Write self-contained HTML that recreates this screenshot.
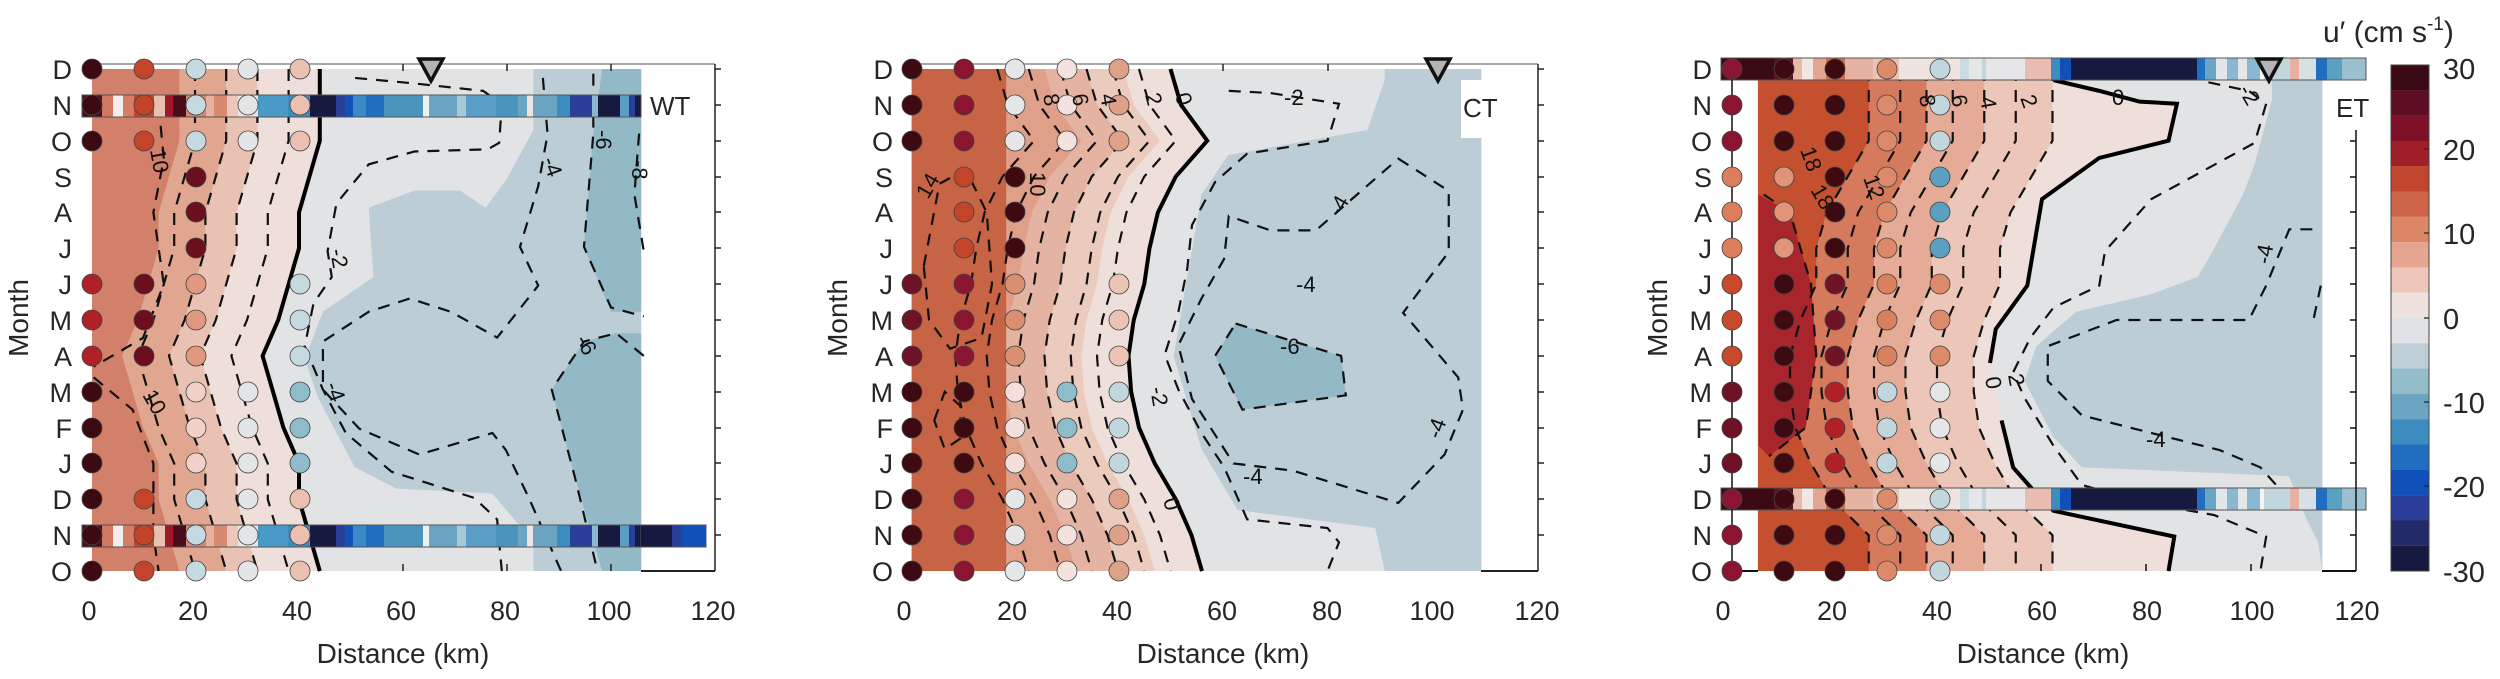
<!DOCTYPE html>
<html><head><meta charset="utf-8"><style>
html,body{margin:0;padding:0;background:#fff;}
svg{display:block;font-family:"Liberation Sans",Arial,sans-serif;}
.t{font-size:27px;fill:#262626;}
.cl{font-size:22px;fill:#111;}
.d{stroke:#444;stroke-width:0.8;}
</style></head><body>
<svg width="2500" height="679" viewBox="0 0 2500 679" xmlns="http://www.w3.org/2000/svg">
<defs>
<clipPath id="c1" clipPathUnits="userSpaceOnUse"><rect x="0.2" y="0" width="105.6" height="14"/></clipPath>
<clipPath id="c2" clipPathUnits="userSpaceOnUse"><rect x="0.7" y="0" width="108.5" height="14"/></clipPath>
<clipPath id="c3" clipPathUnits="userSpaceOnUse"><rect x="5.9" y="0" width="107.5" height="14"/></clipPath>
<polygon id="P1" points="44,0 44,1 44,2 42,3 40,4 40,5 38,6 36,7 33,8 35,9 37,10 40,11 40,12 42,13 44,14 -60,14 -60,0"/>
<polyline id="Z1" vector-effect="non-scaling-stroke" points="44,0 44,1 44,2 42,3 40,4 40,5 38,6 36,7 33,8 35,9 37,10 40,11 40,12 42,13 44,14" fill="none"/>
<polygon id="P2" points="50,0 52,1 57,2 51,3 47.6,4 46,5 45,6 43,7 42,8 42.5,9 44,10 47,11 51,12 54,13 56,14 -60,14 -60,0"/>
<polyline id="Z2" vector-effect="non-scaling-stroke" points="50,0 52,1 57,2 51,3 47.6,4 46,5 45,6 43,7 42,8 42.5,9 44,10 47,11 51,12 54,13 56,14" fill="none"/>
<polygon id="P3" points="62,0 62,1 62,2 58,3 54,4 52,5 52,6 49,7 47,8 47,9 48,10 51,11 55,12 62,13 62,14 -60,14 -60,0"/>
<polyline id="Z3" vector-effect="non-scaling-stroke" points="62,0 62,1 62,2 58,3 54,4 52,5 52,6 49,7 47,8 47,9 48,10 51,11 55,12 62,13 62,14" fill="none"/>
</defs>
<rect width="2500" height="679" fill="#fff"/>

<!-- ================= PANEL 1 ================= -->
<g transform="translate(91,69) scale(5.2,35.86)">
 <g clip-path="url(#c1)">
  <rect x="0" y="0" width="106" height="14" fill="#e2e3e5"/>
  <polygon fill="#bccdd5" points="85.1,0 85.1,1.7 79.8,3.1 75.9,3.87 71,3.39 62.2,3.39 53.4,3.87 54.3,5.8 44.6,6.77 41.1,8.09 43.7,9.18 50.7,11.1 58.7,11.7 77.2,11.84 85.1,13.2 85.1,14 106,14 106,0"/>
  <polygon fill="#93b9c7" points="98.3,0 106.3,0 106.3,6.77 100,6.77 94.8,4.96 96.6,1.8"/>
  <polygon fill="#93b9c7" points="106.3,7.37 101,7.37 94.8,7.6 88.6,8.94 93,11.35 98.3,14 106.3,14"/>
  <use href="#P1" fill="#eedfdb"/>
  <use href="#P1" fill="#e9c2b4" transform="translate(-12,0)"/>
  <use href="#P1" fill="#e0a690" transform="translate(-18,0)"/>
  <use href="#P1" fill="#d3806a" transform="translate(-27,0)"/>
 </g>
 <g fill="none" stroke="#111" stroke-width="2.2" stroke-dasharray="12,9">
  <use href="#Z1" transform="translate(-6,0)"/>
  <use href="#Z1" transform="translate(-12,0)"/>
  <use href="#Z1" transform="translate(-18,0)"/>
  <use href="#Z1" transform="translate(-24,0)"/>
  <polyline vector-effect="non-scaling-stroke" points="13,1 14,2.5 12,4 14,6 10,7.5 0.5,8.3"/>
  <polyline vector-effect="non-scaling-stroke" points="0.5,8.6 8,9.5 12,11 12,13 13,14"/>
  <polyline vector-effect="non-scaling-stroke" points="50.8,0.25 62,0.4 75.4,0.61 79,0.97 78.5,2.06 76.3,2.24 62.2,2.3 53.4,2.66 47.2,3.75 45.5,5.08 46.3,5.8 42.8,6.53 41.1,7.73 44.6,8.94 49,10.15 57.8,11.23 73.7,11.96 78.1,12.56 79,14"/>
  <polyline vector-effect="non-scaling-stroke" points="86.9,0.25 87.8,1.82 86,3.27 82.5,4.96 86,6.04 78.1,7.49 69.2,6.77 61.3,6.4 53.4,6.77 44.6,7.6 44.6,8.94 51.6,10.03 63.1,10.75 77.2,10.15 79.8,10.63 84.2,11.96 90.4,14"/>
  <polyline vector-effect="non-scaling-stroke" points="96.6,0.13 96.6,1.8 94.8,4.96 100,6.65 106.3,6.9"/>
  <polyline vector-effect="non-scaling-stroke" points="106.3,8 101,7.37 94.8,7.6 88.6,8.94 93,11.35 97.4,14"/>
  <polyline vector-effect="non-scaling-stroke" points="105.4,1.8 104.5,3.5 106.3,5.08"/>
 </g>
 <use href="#Z1" stroke="#000" stroke-width="4"/>
</g>
<!-- frame 1 -->
<line x1="91" y1="64" x2="715" y2="64" stroke="#a8a8a8" stroke-width="2"/>
<line x1="715" y1="64" x2="715" y2="571" stroke="#222" stroke-width="1.5"/>
<line x1="641" y1="571" x2="715" y2="571" stroke="#222" stroke-width="2"/>
<g stroke="#222" stroke-width="1.5">
<line x1="195" y1="64" x2="195" y2="71"/><line x1="299" y1="64" x2="299" y2="71"/><line x1="403" y1="64" x2="403" y2="71"/><line x1="507" y1="64" x2="507" y2="71"/><line x1="611" y1="64" x2="611" y2="71"/>
<line x1="403" y1="571" x2="403" y2="564"/><line x1="507" y1="571" x2="507" y2="564"/><line x1="611" y1="571" x2="611" y2="564"/>
<line x1="715" y1="69" x2="721" y2="69"/><line x1="715" y1="105" x2="721" y2="105"/><line x1="715" y1="141" x2="721" y2="141"/><line x1="715" y1="177" x2="721" y2="177"/><line x1="715" y1="212" x2="721" y2="212"/><line x1="715" y1="248" x2="721" y2="248"/><line x1="715" y1="284" x2="721" y2="284"/><line x1="715" y1="320" x2="721" y2="320"/><line x1="715" y1="356" x2="721" y2="356"/><line x1="715" y1="392" x2="721" y2="392"/><line x1="715" y1="428" x2="721" y2="428"/><line x1="715" y1="463" x2="721" y2="463"/><line x1="715" y1="499" x2="721" y2="499"/><line x1="715" y1="535" x2="721" y2="535"/>
</g>
<!-- bars panel 1 -->
<g id="bar1">
<rect x="82" y="95" width="20" height="22" fill="#4a0c18"/><rect x="102" y="95" width="11" height="22" fill="#d07860"/><rect x="113" y="95" width="10" height="22" fill="#f2eeee"/><rect x="123" y="95" width="11" height="22" fill="#d47c64"/><rect x="134" y="95" width="20" height="22" fill="#c4442a"/><rect x="154" y="95" width="11" height="22" fill="#e8c0b0"/><rect x="165" y="95" width="8" height="22" fill="#a01828"/><rect x="173" y="95" width="13" height="22" fill="#4a0c18"/><rect x="186" y="95" width="20" height="22" fill="#d08870"/><rect x="206" y="95" width="8" height="22" fill="#e8b0a0"/><rect x="214" y="95" width="13" height="22" fill="#d88a70"/><rect x="227" y="95" width="11" height="22" fill="#ecc8bc"/><rect x="238" y="95" width="20" height="22" fill="#eee4e0"/><rect x="258" y="95" width="30" height="22" fill="#4a9ac8"/><rect x="288" y="95" width="22" height="22" fill="#3d8cc0"/><rect x="310" y="95" width="26" height="22" fill="#161a40"/><rect x="336" y="95" width="9" height="22" fill="#2a3f9a"/><rect x="345" y="95" width="8" height="22" fill="#1050b8"/><rect x="353" y="95" width="13" height="22" fill="#3a8ac8"/><rect x="366" y="95" width="18" height="22" fill="#1f6ebf"/><rect x="384" y="95" width="39" height="22" fill="#4a95c0"/><rect x="423" y="95" width="6" height="22" fill="#f2f0ee"/><rect x="429" y="95" width="28" height="22" fill="#6aa6c4"/><rect x="457" y="95" width="9" height="22" fill="#a8c8d6"/><rect x="466" y="95" width="30" height="22" fill="#5a9ec8"/><rect x="496" y="95" width="22" height="22" fill="#4a95c0"/><rect x="518" y="95" width="9" height="22" fill="#6aa6c4"/><rect x="527" y="95" width="6" height="22" fill="#f0e4e0"/><rect x="533" y="95" width="24" height="22" fill="#6aa6c4"/><rect x="557" y="95" width="13" height="22" fill="#3d8cc0"/><rect x="570" y="95" width="22" height="22" fill="#2a3f9a"/><rect x="592" y="95" width="6" height="22" fill="#8ab8d0"/><rect x="598" y="95" width="22" height="22" fill="#161a40"/><rect x="620" y="95" width="9" height="22" fill="#5a9ec8"/><rect x="629" y="95" width="6" height="22" fill="#2a3f9a"/><rect x="635" y="95" width="6" height="22" fill="#161a40"/>
<rect x="82" y="95" width="559" height="22" fill="none" stroke="#555" stroke-width="1"/>
</g>
<use href="#bar1" transform="translate(0,430)"/>
<rect x="641" y="525" width="31" height="22" fill="#161a40"/><rect x="672" y="525" width="10" height="22" fill="#2a3f9a"/><rect x="682" y="525" width="24" height="22" fill="#1050b8"/>
<rect x="82" y="525" width="624" height="22" fill="none" stroke="#555" stroke-width="1"/>
<!-- dots panel 1 -->
<g class="d">
<circle cx="92" cy="69" r="10" fill="#3d0a12"/><circle cx="144" cy="69" r="10" fill="#c4442a"/><circle cx="196" cy="69" r="10" fill="#c5d9e1"/><circle cx="248" cy="69" r="10" fill="#e3e5e7"/><circle cx="300" cy="69" r="10" fill="#ecc0b0"/>
<circle cx="92" cy="105" r="10" fill="#3d0a12"/><circle cx="144" cy="105" r="10" fill="#c4442a"/><circle cx="196" cy="105" r="10" fill="#c5d9e1"/><circle cx="248" cy="105" r="10" fill="#e3e5e7"/><circle cx="300" cy="105" r="10" fill="#ecc0b0"/>
<circle cx="92" cy="141" r="10" fill="#3d0a12"/><circle cx="144" cy="141" r="10" fill="#c4442a"/><circle cx="196" cy="141" r="10" fill="#c5d9e1"/><circle cx="248" cy="141" r="10" fill="#e3e5e7"/><circle cx="300" cy="141" r="10" fill="#ecc0b0"/>
<circle cx="196" cy="177" r="10" fill="#6b0f1f"/><circle cx="196" cy="212" r="10" fill="#6b0f1f"/><circle cx="196" cy="248" r="10" fill="#6b0f1f"/>
<circle cx="92" cy="284" r="10" fill="#b02027"/><circle cx="144" cy="284" r="10" fill="#6b0f1f"/><circle cx="196" cy="284" r="10" fill="#e09880"/><circle cx="300" cy="284" r="10" fill="#c5d9e1"/>
<circle cx="92" cy="320" r="10" fill="#b02027"/><circle cx="144" cy="320" r="10" fill="#6b0f1f"/><circle cx="196" cy="320" r="10" fill="#e09880"/><circle cx="300" cy="320" r="10" fill="#c5d9e1"/>
<circle cx="92" cy="356" r="10" fill="#b02027"/><circle cx="144" cy="356" r="10" fill="#6b0f1f"/><circle cx="196" cy="356" r="10" fill="#e09880"/><circle cx="300" cy="356" r="10" fill="#c5d9e1"/>
<circle cx="92" cy="392" r="10" fill="#3d0a12"/><circle cx="196" cy="392" r="10" fill="#f0d2c8"/><circle cx="248" cy="392" r="10" fill="#e3e5e7"/><circle cx="300" cy="392" r="10" fill="#8fbccb"/>
<circle cx="92" cy="428" r="10" fill="#3d0a12"/><circle cx="196" cy="428" r="10" fill="#f0d2c8"/><circle cx="248" cy="428" r="10" fill="#e3e5e7"/><circle cx="300" cy="428" r="10" fill="#8fbccb"/>
<circle cx="92" cy="463" r="10" fill="#3d0a12"/><circle cx="196" cy="463" r="10" fill="#f0d2c8"/><circle cx="248" cy="463" r="10" fill="#e3e5e7"/><circle cx="300" cy="463" r="10" fill="#8fbccb"/>
<circle cx="92" cy="499" r="10" fill="#3d0a12"/><circle cx="144" cy="499" r="10" fill="#c4442a"/><circle cx="196" cy="499" r="10" fill="#c5d9e1"/><circle cx="248" cy="499" r="10" fill="#e3e5e7"/><circle cx="300" cy="499" r="10" fill="#ecc0b0"/>
<circle cx="92" cy="535" r="10" fill="#3d0a12"/><circle cx="144" cy="535" r="10" fill="#c4442a"/><circle cx="196" cy="535" r="10" fill="#c5d9e1"/><circle cx="248" cy="535" r="10" fill="#e3e5e7"/><circle cx="300" cy="535" r="10" fill="#ecc0b0"/>
<circle cx="92" cy="571" r="10" fill="#3d0a12"/><circle cx="144" cy="571" r="10" fill="#c4442a"/><circle cx="196" cy="571" r="10" fill="#c5d9e1"/><circle cx="248" cy="571" r="10" fill="#e3e5e7"/><circle cx="300" cy="571" r="10" fill="#ecc0b0"/>
</g>
<polygon points="419,59 443,59 431,81" fill="#b4b4b4" stroke="#111" stroke-width="3.5" stroke-linejoin="miter"/>
<text x="650" y="115" class="t" style="font-size:26px">WT</text>
<g class="cl">
<text transform="translate(150,150) rotate(80)">10</text>
<text transform="translate(142,395) rotate(60)">10</text>
<text transform="translate(330,250) rotate(80)">-2</text>
<text transform="translate(325,385) rotate(70)">-4</text>
<text transform="translate(542,160) rotate(70)">-4</text>
<text transform="translate(575,340) rotate(60)">-6</text>
<text transform="translate(596,130) rotate(90)">-6</text>
<text transform="translate(632,160) rotate(90)">-8</text>
</g>
<!-- axes labels panel 1 -->
<g class="t" text-anchor="end">
<text x="72" y="79">D</text><text x="72" y="115">N</text><text x="72" y="151">O</text><text x="72" y="187">S</text><text x="72" y="222">A</text><text x="72" y="258">J</text><text x="72" y="294">J</text><text x="72" y="330">M</text><text x="72" y="366">A</text><text x="72" y="402">M</text><text x="72" y="438">F</text><text x="72" y="473">J</text><text x="72" y="509">D</text><text x="72" y="545">N</text><text x="72" y="581">O</text>
</g>
<g class="t" text-anchor="middle">
<text x="89" y="620">0</text><text x="193" y="620">20</text><text x="297" y="620">40</text><text x="401" y="620">60</text><text x="505" y="620">80</text><text x="609" y="620">100</text><text x="713" y="620">120</text>
<text x="403" y="663" style="font-size:28px">Distance (km)</text>
<text transform="translate(28,318) rotate(-90)" style="font-size:28px">Month</text>
</g>

<!-- ================= PANEL 2 ================= -->
<g transform="translate(908,69) scale(5.25,35.86)">
 <g clip-path="url(#c2)">
  <rect x="0" y="0" width="110" height="14" fill="#e2e3e5"/>
  <polygon fill="#bccdd5" points="90.8,0 90.8,0.3 87.5,1.7 61,2.4 55.9,3.5 50.6,8 55.9,10.6 62.8,12.3 89,12.8 90.8,14 110,14 110,0"/>
  <polygon fill="#93b9c7" points="62.4,7.1 82.5,8.0 83.4,9.1 63.7,9.5 58.5,8.0"/>
  <use href="#P2" fill="#eedfdb"/>
  <use href="#P2" fill="#eccbbf" transform="translate(-9,0)"/>
  <use href="#P2" fill="#e5b3a2" transform="translate(-16,0)"/>
  <use href="#P2" fill="#df9f88" transform="translate(-24,0)"/>
  <rect x="0" y="0" width="18.7" height="14" fill="#c66445"/>
 </g>
 <g fill="none" stroke="#111" stroke-width="2.2" stroke-dasharray="12,9">
  <use href="#Z2" transform="translate(-6,0)"/>
  <use href="#Z2" transform="translate(-11,0)"/>
  <use href="#Z2" transform="translate(-16,0)"/>
  <use href="#Z2" transform="translate(-21,0)"/>
  <use href="#Z2" transform="translate(-27,0)"/>
  <use href="#Z2" transform="translate(-33,0)"/>
  <polyline vector-effect="non-scaling-stroke" points="61.1,0.61 69,0.67 82.1,0.97 79.9,2.0 64.6,2.36 58.5,3.15 54.1,4.35 53.2,5.56 51.5,6.77 48.9,7.97 51.5,8.94 55.9,10.15 60.2,11.1 64.6,12.56 79.9,12.8 82.1,13.2 79.9,14"/>
  <polygon vector-effect="non-scaling-stroke" points="93.4,2.5 103,3.4 103,5.1 94.3,6.8 104.8,8.6 105.7,9.5 102.2,10.75 93.4,12.1 73.3,11.2 62,11 54.1,9.2 51.5,7.7 55.9,6.4 60.2,5.3 61.1,4.1 69,4.5 77.7,4.5"/>
  <polygon vector-effect="non-scaling-stroke" points="62.4,7.1 82.5,8.0 83.4,9.1 63.7,9.5 58.5,8.0"/>
  <polygon vector-effect="non-scaling-stroke" points="3,5.5 6,3.2 11,2.8 15,4 16,6 14,7.5 8,7.8 4,7"/>
  <polygon vector-effect="non-scaling-stroke" points="5,9.8 7,9 10,9.4 10,10.3 7,10.6"/>
 </g>
 <use href="#Z2" stroke="#000" stroke-width="4"/>
</g>
<line x1="908" y1="64" x2="1538" y2="64" stroke="#a8a8a8" stroke-width="2"/>
<line x1="1538" y1="64" x2="1538" y2="571" stroke="#222" stroke-width="1.5"/>
<line x1="1481" y1="571" x2="1538" y2="571" stroke="#222" stroke-width="2"/>
<g stroke="#222" stroke-width="1.5">
<line x1="1223" y1="64" x2="1223" y2="71"/><line x1="1328" y1="64" x2="1328" y2="71"/><line x1="1433" y1="64" x2="1433" y2="71"/>
<line x1="1538" y1="69" x2="1544" y2="69"/><line x1="1538" y1="105" x2="1544" y2="105"/><line x1="1538" y1="141" x2="1544" y2="141"/><line x1="1538" y1="177" x2="1544" y2="177"/><line x1="1538" y1="212" x2="1544" y2="212"/><line x1="1538" y1="248" x2="1544" y2="248"/><line x1="1538" y1="284" x2="1544" y2="284"/><line x1="1538" y1="320" x2="1544" y2="320"/><line x1="1538" y1="356" x2="1544" y2="356"/><line x1="1538" y1="392" x2="1544" y2="392"/><line x1="1538" y1="428" x2="1544" y2="428"/><line x1="1538" y1="463" x2="1544" y2="463"/><line x1="1538" y1="499" x2="1544" y2="499"/><line x1="1538" y1="535" x2="1544" y2="535"/>
</g>
<g class="d">
<circle cx="912" cy="69" r="10" fill="#3d0a12"/><circle cx="964" cy="69" r="10" fill="#8b1530"/><circle cx="1015" cy="69" r="10" fill="#e4e6e8"/><circle cx="1067" cy="69" r="10" fill="#f3e2de"/><circle cx="1119" cy="69" r="10" fill="#dfa088"/>
<circle cx="912" cy="105" r="10" fill="#3d0a12"/><circle cx="964" cy="105" r="10" fill="#8b1530"/><circle cx="1015" cy="105" r="10" fill="#e4e6e8"/><circle cx="1067" cy="105" r="10" fill="#f3e2de"/><circle cx="1119" cy="105" r="10" fill="#dfa088"/>
<circle cx="912" cy="141" r="10" fill="#3d0a12"/><circle cx="964" cy="141" r="10" fill="#8b1530"/><circle cx="1015" cy="141" r="10" fill="#e4e6e8"/><circle cx="1067" cy="141" r="10" fill="#f3e2de"/><circle cx="1119" cy="141" r="10" fill="#dfa088"/>
<circle cx="964" cy="177" r="10" fill="#c4442a"/><circle cx="1015" cy="177" r="10" fill="#3d0a12"/>
<circle cx="964" cy="212" r="10" fill="#c4442a"/><circle cx="1015" cy="212" r="10" fill="#3d0a12"/>
<circle cx="964" cy="248" r="10" fill="#c4442a"/><circle cx="1015" cy="248" r="10" fill="#3d0a12"/>
<circle cx="912" cy="284" r="10" fill="#6e1226"/><circle cx="964" cy="284" r="10" fill="#8b1530"/><circle cx="1015" cy="284" r="10" fill="#d99070"/><circle cx="1119" cy="284" r="10" fill="#ebc4b4"/>
<circle cx="912" cy="320" r="10" fill="#6e1226"/><circle cx="964" cy="320" r="10" fill="#8b1530"/><circle cx="1015" cy="320" r="10" fill="#d99070"/><circle cx="1119" cy="320" r="10" fill="#ebc4b4"/>
<circle cx="912" cy="356" r="10" fill="#6e1226"/><circle cx="964" cy="356" r="10" fill="#8b1530"/><circle cx="1015" cy="356" r="10" fill="#d99070"/><circle cx="1119" cy="356" r="10" fill="#ebc4b4"/>
<circle cx="912" cy="392" r="10" fill="#3d0a12"/><circle cx="964" cy="392" r="10" fill="#3d0a12"/><circle cx="1015" cy="392" r="10" fill="#f3e0dc"/><circle cx="1067" cy="392" r="10" fill="#8fbccb"/><circle cx="1119" cy="392" r="10" fill="#c2d6de"/>
<circle cx="912" cy="428" r="10" fill="#3d0a12"/><circle cx="964" cy="428" r="10" fill="#3d0a12"/><circle cx="1015" cy="428" r="10" fill="#f3e0dc"/><circle cx="1067" cy="428" r="10" fill="#8fbccb"/><circle cx="1119" cy="428" r="10" fill="#c2d6de"/>
<circle cx="912" cy="463" r="10" fill="#3d0a12"/><circle cx="964" cy="463" r="10" fill="#3d0a12"/><circle cx="1015" cy="463" r="10" fill="#f3e0dc"/><circle cx="1067" cy="463" r="10" fill="#8fbccb"/><circle cx="1119" cy="463" r="10" fill="#c2d6de"/>
<circle cx="912" cy="499" r="10" fill="#3d0a12"/><circle cx="964" cy="499" r="10" fill="#8b1530"/><circle cx="1015" cy="499" r="10" fill="#e4e6e8"/><circle cx="1067" cy="499" r="10" fill="#f3e2de"/><circle cx="1119" cy="499" r="10" fill="#dfa088"/>
<circle cx="912" cy="535" r="10" fill="#3d0a12"/><circle cx="964" cy="535" r="10" fill="#8b1530"/><circle cx="1015" cy="535" r="10" fill="#e4e6e8"/><circle cx="1067" cy="535" r="10" fill="#f3e2de"/><circle cx="1119" cy="535" r="10" fill="#dfa088"/>
<circle cx="912" cy="571" r="10" fill="#3d0a12"/><circle cx="964" cy="571" r="10" fill="#8b1530"/><circle cx="1015" cy="571" r="10" fill="#e4e6e8"/><circle cx="1067" cy="571" r="10" fill="#f3e2de"/><circle cx="1119" cy="571" r="10" fill="#dfa088"/>
</g>
<polygon points="1426,59 1450,59 1438,81" fill="#b4b4b4" stroke="#111" stroke-width="3.5"/>
<rect x="1461" y="80" width="36" height="58" fill="#fff"/>
<text x="1463" y="117" class="t" style="font-size:26px">CT</text>
<g class="cl">
<text x="1284" y="105">-2</text>
<text transform="translate(1175,95) rotate(75)">0</text>
<text transform="translate(1145,95) rotate(75)">2</text>
<text transform="translate(1100,95) rotate(80)">4</text>
<text transform="translate(1072,95) rotate(80)">6</text>
<text transform="translate(1043,95) rotate(80)">8</text>
<text transform="translate(928,200) rotate(-60)">14</text>
<text transform="translate(1030,172) rotate(90)">10</text>
<text transform="translate(1340,218) rotate(-60)">-4</text>
<text x="1296" y="292">-4</text>
<text x="1280" y="354">-6</text>
<text transform="translate(1150,388) rotate(80)">-2</text>
<text x="1243" y="484">-4</text>
<text transform="translate(1440,440) rotate(-70)">-4</text>
<text transform="translate(1163,500) rotate(75)">0</text>
</g>
<g class="t" text-anchor="end">
<text x="893" y="79">D</text><text x="893" y="115">N</text><text x="893" y="151">O</text><text x="893" y="187">S</text><text x="893" y="222">A</text><text x="893" y="258">J</text><text x="893" y="294">J</text><text x="893" y="330">M</text><text x="893" y="366">A</text><text x="893" y="402">M</text><text x="893" y="438">F</text><text x="893" y="473">J</text><text x="893" y="509">D</text><text x="893" y="545">N</text><text x="893" y="581">O</text>
</g>
<g class="t" text-anchor="middle">
<text x="904" y="620">0</text><text x="1012" y="620">20</text><text x="1117" y="620">40</text><text x="1222" y="620">60</text><text x="1327" y="620">80</text><text x="1432" y="620">100</text><text x="1537" y="620">120</text>
<text x="1223" y="663" style="font-size:28px">Distance (km)</text>
<text transform="translate(847,318) rotate(-90)" style="font-size:28px">Month</text>
</g>

<!-- ================= PANEL 3 ================= -->
<g transform="translate(1727,69) scale(5.25,35.86)">
 <g clip-path="url(#c3)">
  <rect x="0" y="0" width="114" height="14" fill="#e2e3e5"/>
  <polygon fill="#bccdd5" points="103.8,0 103.8,0.85 100.5,2.66 98.3,3.5 91.7,5.3 89.6,5.8 80.8,6.28 66.5,6.77 58.9,7.73 56.7,8.7 62.2,10.27 67.6,11.11 107,11.35 110.4,12.56 112.6,13.2 113.4,14 114,14 114,0"/>
  <polygon fill="#efdfda" points="62.2,0.31 70.9,0.61 78.6,0.91 85.7,0.97 84.1,2.0 70.9,2.48 60,3.63 57.2,6.04 51.2,7.25 50.1,8.46 52.3,9.54 54.5,11.11 58.9,11.84 62.2,12.32 85.2,13.04 84.1,14 -10,14 -10,0"/>
  <use href="#P3" fill="#ecc6b8"/>
  <use href="#P3" fill="#e5ab96" transform="translate(-13,0)"/>
  <use href="#P3" fill="#d67a5e" transform="translate(-24,0)"/>
  <use href="#P3" fill="#c4502f" transform="translate(-35,0)"/>
  <polygon fill="#a8262b" points="6,3.5 12,4 16,6 17,8 15,10 8,10.8 6,10.5"/>
 </g>
 <g fill="none" stroke="#111" stroke-width="2.2" stroke-dasharray="12,9">
  <use href="#Z3"/>
  <use href="#Z3" transform="translate(-7,0)"/>
  <use href="#Z3" transform="translate(-13,0)"/>
  <use href="#Z3" transform="translate(-19,0)"/>
  <use href="#Z3" transform="translate(-24,0)"/>
  <use href="#Z3" transform="translate(-29,0)"/>
  <use href="#Z3" transform="translate(-35,0)"/>
  <polyline vector-effect="non-scaling-stroke" points="7,3.5 12,4 16,6 17,8 15,10 8,10.8"/>
  <polyline vector-effect="non-scaling-stroke" points="91.7,0.37 99.4,0.61 102.7,0.97 100.5,2.06 80.8,3.63 72,5.08 70.9,6.04 62.2,6.65 57.8,7.49 54.5,8.46 56.7,9.18 62.2,10.51 67.6,11.6 80,12.1 92.8,12.44 102.7,13.04 101.6,14"/>
  <polyline vector-effect="non-scaling-stroke" points="111.5,4.47 107.1,4.47 102.7,6.04 99.4,7.0 74.2,7.0 61.1,7.73 61.1,8.7 67.6,9.66 80.8,10.15 93.9,10.63 101.6,11.11 104.9,11.65"/>
  <polyline vector-effect="non-scaling-stroke" points="113.1,6.04 111.5,7.13"/>
 </g>
 <polyline fill="none" stroke="#000" stroke-width="4" vector-effect="non-scaling-stroke" points="62.2,0.31 70.9,0.61 78.6,0.91 85.7,0.97 84.1,2.0 70.9,2.48 60,3.63 57.2,6.04 51.2,7.25 50.1,8.2"/>
 <polyline fill="none" stroke="#000" stroke-width="4" vector-effect="non-scaling-stroke" points="52.3,9.8 54.5,11.11 58.9,11.84 62.2,12.32 85.2,13.04 84.1,14"/>
</g>
<!-- bars panel 3 -->
<g id="bar3">
<rect x="1721" y="58" width="53" height="22" fill="#3a0a14"/><rect x="1774" y="58" width="19" height="22" fill="#5a1020"/><rect x="1793" y="58" width="9" height="22" fill="#e8b8a8"/><rect x="1802" y="58" width="11" height="22" fill="#f0e6e2"/><rect x="1813" y="58" width="13" height="22" fill="#e2a592"/><rect x="1826" y="58" width="19" height="22" fill="#d07050"/><rect x="1845" y="58" width="28" height="22" fill="#e6b3a2"/><rect x="1873" y="58" width="26" height="22" fill="#e8c4b6"/><rect x="1899" y="58" width="61" height="22" fill="#f0e4e0"/><rect x="1960" y="58" width="9" height="22" fill="#c8dce4"/><rect x="1969" y="58" width="13" height="22" fill="#e6e6e8"/><rect x="1982" y="58" width="4" height="22" fill="#c2d6de"/><rect x="1986" y="58" width="39" height="22" fill="#e6e6e8"/><rect x="2025" y="58" width="26" height="22" fill="#e8bcb0"/><rect x="2051" y="58" width="9" height="22" fill="#3d8cc0"/><rect x="2060" y="58" width="11" height="22" fill="#1050b8"/><rect x="2071" y="58" width="126" height="22" fill="#161a40"/><rect x="2197" y="58" width="8" height="22" fill="#1f6ebf"/><rect x="2205" y="58" width="11" height="22" fill="#6aa6c4"/><rect x="2216" y="58" width="11" height="22" fill="#e0e6ea"/><rect x="2227" y="58" width="11" height="22" fill="#8ab8d0"/><rect x="2238" y="58" width="9" height="22" fill="#e4e6e8"/><rect x="2247" y="58" width="13" height="22" fill="#8ab8d0"/><rect x="2260" y="58" width="4" height="22" fill="#f4f4f4"/><rect x="2264" y="58" width="26" height="22" fill="#c2d6de"/><rect x="2290" y="58" width="9" height="22" fill="#e8b0a0"/><rect x="2299" y="58" width="17" height="22" fill="#d8e2e6"/><rect x="2316" y="58" width="11" height="22" fill="#1f6ebf"/><rect x="2327" y="58" width="15" height="22" fill="#5aa0c0"/><rect x="2342" y="58" width="24" height="22" fill="#9ac0d0"/>
<rect x="1721" y="58" width="645" height="22" fill="none" stroke="#555" stroke-width="1"/>
</g>
<use href="#bar3" transform="translate(0,430)"/>
<!-- axes panel 3 -->
<line x1="1732" y1="69" x2="1732" y2="571" stroke="#111" stroke-width="1.5"/>
<line x1="1732" y1="571" x2="1758" y2="571" stroke="#111" stroke-width="2"/>
<line x1="2322" y1="571" x2="2356" y2="571" stroke="#111" stroke-width="2"/>
<line x1="2356" y1="130" x2="2356" y2="571" stroke="#111" stroke-width="1.5"/>
<g stroke="#111" stroke-width="1.5">
<line x1="2041" y1="571" x2="2041" y2="564"/><line x1="2146" y1="571" x2="2146" y2="564"/><line x1="2251" y1="571" x2="2251" y2="564"/>
<line x1="2356" y1="141" x2="2350" y2="141"/><line x1="2356" y1="177" x2="2350" y2="177"/><line x1="2356" y1="212" x2="2350" y2="212"/><line x1="2356" y1="248" x2="2350" y2="248"/><line x1="2356" y1="284" x2="2350" y2="284"/><line x1="2356" y1="320" x2="2350" y2="320"/><line x1="2356" y1="356" x2="2350" y2="356"/><line x1="2356" y1="392" x2="2350" y2="392"/><line x1="2356" y1="428" x2="2350" y2="428"/><line x1="2356" y1="463" x2="2350" y2="463"/><line x1="2356" y1="535" x2="2350" y2="535"/>
</g>
<g class="d">
<circle cx="1732" cy="69" r="10" fill="#8b1530"/><circle cx="1784" cy="69" r="10" fill="#3d0a12"/><circle cx="1835" cy="69" r="10" fill="#3d0a12"/><circle cx="1887" cy="69" r="10" fill="#dc8a6a"/><circle cx="1940" cy="69" r="10" fill="#c2d6de"/>
<circle cx="1732" cy="105" r="10" fill="#8b1530"/><circle cx="1784" cy="105" r="10" fill="#3d0a12"/><circle cx="1835" cy="105" r="10" fill="#3d0a12"/><circle cx="1887" cy="105" r="10" fill="#dc8a6a"/><circle cx="1940" cy="105" r="10" fill="#c2d6de"/>
<circle cx="1732" cy="141" r="10" fill="#8b1530"/><circle cx="1784" cy="141" r="10" fill="#3d0a12"/><circle cx="1835" cy="141" r="10" fill="#3d0a12"/><circle cx="1887" cy="141" r="10" fill="#dc8a6a"/><circle cx="1940" cy="141" r="10" fill="#c2d6de"/>
<circle cx="1732" cy="177" r="10" fill="#dc7e5e"/><circle cx="1784" cy="177" r="10" fill="#e0957a"/><circle cx="1835" cy="177" r="10" fill="#3d0a12"/><circle cx="1887" cy="177" r="10" fill="#dc8a6a"/><circle cx="1940" cy="177" r="10" fill="#5ba0c0"/>
<circle cx="1732" cy="212" r="10" fill="#dc7e5e"/><circle cx="1784" cy="212" r="10" fill="#e0957a"/><circle cx="1835" cy="212" r="10" fill="#3d0a12"/><circle cx="1887" cy="212" r="10" fill="#dc8a6a"/><circle cx="1940" cy="212" r="10" fill="#5ba0c0"/>
<circle cx="1732" cy="248" r="10" fill="#dc7e5e"/><circle cx="1784" cy="248" r="10" fill="#e0957a"/><circle cx="1835" cy="248" r="10" fill="#3d0a12"/><circle cx="1887" cy="248" r="10" fill="#dc8a6a"/><circle cx="1940" cy="248" r="10" fill="#5ba0c0"/>
<circle cx="1732" cy="284" r="10" fill="#c84a2a"/><circle cx="1784" cy="284" r="10" fill="#3d0a12"/><circle cx="1835" cy="284" r="10" fill="#6e1226"/><circle cx="1887" cy="284" r="10" fill="#d9805f"/><circle cx="1940" cy="284" r="10" fill="#dc8a6a"/>
<circle cx="1732" cy="320" r="10" fill="#c84a2a"/><circle cx="1784" cy="320" r="10" fill="#3d0a12"/><circle cx="1835" cy="320" r="10" fill="#6e1226"/><circle cx="1887" cy="320" r="10" fill="#d9805f"/><circle cx="1940" cy="320" r="10" fill="#dc8a6a"/>
<circle cx="1732" cy="356" r="10" fill="#c84a2a"/><circle cx="1784" cy="356" r="10" fill="#3d0a12"/><circle cx="1835" cy="356" r="10" fill="#6e1226"/><circle cx="1887" cy="356" r="10" fill="#d9805f"/><circle cx="1940" cy="356" r="10" fill="#dc8a6a"/>
<circle cx="1732" cy="392" r="10" fill="#6e1226"/><circle cx="1784" cy="392" r="10" fill="#3d0a12"/><circle cx="1835" cy="392" r="10" fill="#b02027"/><circle cx="1887" cy="392" r="10" fill="#c2d6de"/><circle cx="1940" cy="392" r="10" fill="#e4e6e8"/>
<circle cx="1732" cy="428" r="10" fill="#6e1226"/><circle cx="1784" cy="428" r="10" fill="#3d0a12"/><circle cx="1835" cy="428" r="10" fill="#b02027"/><circle cx="1887" cy="428" r="10" fill="#c2d6de"/><circle cx="1940" cy="428" r="10" fill="#e4e6e8"/>
<circle cx="1732" cy="463" r="10" fill="#6e1226"/><circle cx="1784" cy="463" r="10" fill="#3d0a12"/><circle cx="1835" cy="463" r="10" fill="#b02027"/><circle cx="1887" cy="463" r="10" fill="#c2d6de"/><circle cx="1940" cy="463" r="10" fill="#e4e6e8"/>
<circle cx="1732" cy="499" r="10" fill="#8b1530"/><circle cx="1784" cy="499" r="10" fill="#3d0a12"/><circle cx="1835" cy="499" r="10" fill="#3d0a12"/><circle cx="1887" cy="499" r="10" fill="#dc8a6a"/><circle cx="1940" cy="499" r="10" fill="#c2d6de"/>
<circle cx="1732" cy="535" r="10" fill="#8b1530"/><circle cx="1784" cy="535" r="10" fill="#3d0a12"/><circle cx="1835" cy="535" r="10" fill="#3d0a12"/><circle cx="1887" cy="535" r="10" fill="#dc8a6a"/><circle cx="1940" cy="535" r="10" fill="#c2d6de"/>
<circle cx="1732" cy="571" r="10" fill="#8b1530"/><circle cx="1784" cy="571" r="10" fill="#3d0a12"/><circle cx="1835" cy="571" r="10" fill="#3d0a12"/><circle cx="1887" cy="571" r="10" fill="#dc8a6a"/><circle cx="1940" cy="571" r="10" fill="#c2d6de"/>
</g>
<polygon points="2257,59 2281,59 2269,81" fill="#b4b4b4" stroke="#111" stroke-width="3.5"/>
<rect x="2334" y="90" width="38" height="38" fill="#fff"/>
<text x="2336" y="117" class="t" style="font-size:26px">ET</text>
<g class="cl">
<text x="2112" y="105">0</text>
<text transform="translate(2238,90) rotate(60)">-2</text>
<text transform="translate(2020,98) rotate(70)">2</text>
<text transform="translate(1980,98) rotate(80)">4</text>
<text transform="translate(1951,96) rotate(80)">6</text>
<text transform="translate(1919,96) rotate(80)">8</text>
<text transform="translate(1863,178) rotate(70)">12</text>
<text transform="translate(1810,190) rotate(60)">18</text>
<text transform="translate(1800,150) rotate(70)">18</text>
<text transform="translate(1985,378) rotate(80)">0</text>
<text transform="translate(2008,375) rotate(80)">2</text>
<text x="2146" y="447">-4</text>
<text transform="translate(2270,265) rotate(-80)">-4</text>
</g>
<g class="t" text-anchor="end">
<text x="1712" y="79">D</text><text x="1712" y="115">N</text><text x="1712" y="151">O</text><text x="1712" y="187">S</text><text x="1712" y="222">A</text><text x="1712" y="258">J</text><text x="1712" y="294">J</text><text x="1712" y="330">M</text><text x="1712" y="366">A</text><text x="1712" y="402">M</text><text x="1712" y="438">F</text><text x="1712" y="473">J</text><text x="1712" y="509">D</text><text x="1712" y="545">N</text><text x="1712" y="581">O</text>
</g>
<g class="t" text-anchor="middle">
<text x="1723" y="620">0</text><text x="1832" y="620">20</text><text x="1937" y="620">40</text><text x="2042" y="620">60</text><text x="2147" y="620">80</text><text x="2252" y="620">100</text><text x="2357" y="620">120</text>
<text x="2043" y="663" style="font-size:28px">Distance (km)</text>
<text transform="translate(1667,318) rotate(-90)" style="font-size:28px">Month</text>
</g>

<!-- colorbar -->
<g>
<rect x="2391" y="65.0" width="38" height="25.4" fill="#3a0a14"/>
<rect x="2391" y="90.3" width="38" height="25.4" fill="#5e0e22"/>
<rect x="2391" y="115.6" width="38" height="25.4" fill="#7e1028"/>
<rect x="2391" y="140.9" width="38" height="25.4" fill="#a01e25"/>
<rect x="2391" y="166.2" width="38" height="25.4" fill="#c0452c"/>
<rect x="2391" y="191.5" width="38" height="25.4" fill="#cf6548"/>
<rect x="2391" y="216.8" width="38" height="25.4" fill="#dc8668"/>
<rect x="2391" y="242.1" width="38" height="25.4" fill="#e6a590"/>
<rect x="2391" y="267.4" width="38" height="25.4" fill="#eec6ba"/>
<rect x="2391" y="292.7" width="38" height="25.4" fill="#efe1dd"/>
<rect x="2391" y="318.0" width="38" height="25.4" fill="#e0e2e5"/>
<rect x="2391" y="343.3" width="38" height="25.4" fill="#bdced6"/>
<rect x="2391" y="368.6" width="38" height="25.4" fill="#95bccb"/>
<rect x="2391" y="393.9" width="38" height="25.4" fill="#6aa6c4"/>
<rect x="2391" y="419.2" width="38" height="25.4" fill="#3d8cc0"/>
<rect x="2391" y="444.5" width="38" height="25.4" fill="#1f6ebf"/>
<rect x="2391" y="469.8" width="38" height="25.4" fill="#1050b8"/>
<rect x="2391" y="495.1" width="38" height="25.4" fill="#2a3f9a"/>
<rect x="2391" y="520.4" width="38" height="25.4" fill="#232a6a"/>
<rect x="2391" y="545.7" width="38" height="25.3" fill="#161a40"/>
<rect x="2391" y="65" width="38" height="506" fill="none" stroke="#444" stroke-width="1"/>
<g stroke="#222" stroke-width="1.2">
<line x1="2424" y1="149" x2="2429" y2="149"/><line x1="2424" y1="233" x2="2429" y2="233"/><line x1="2424" y1="318" x2="2429" y2="318"/><line x1="2424" y1="402" x2="2429" y2="402"/><line x1="2424" y1="486" x2="2429" y2="486"/>
</g>
<g class="t" style="font-size:29px">
<text x="2443" y="79">30</text><text x="2443" y="160">20</text><text x="2443" y="244">10</text><text x="2443" y="329">0</text><text x="2443" y="413">-10</text><text x="2443" y="497">-20</text><text x="2443" y="582">-30</text>
</g>
<text x="2323" y="42" class="t" style="font-size:30px">u′ (cm s<tspan dy="-12" style="font-size:19px">-1</tspan><tspan dy="12">)</tspan></text>
</g>
</svg>
</body></html>
